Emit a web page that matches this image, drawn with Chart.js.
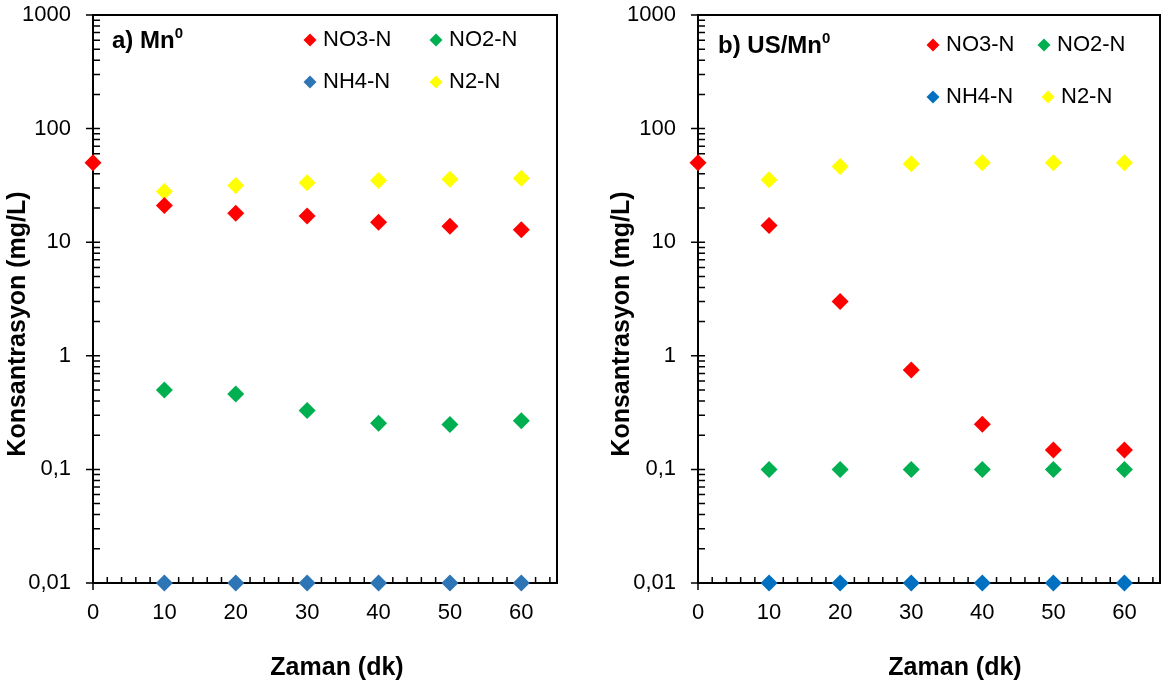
<!DOCTYPE html>
<html lang="tr">
<head>
    <meta charset="UTF-8">
    <title>Konsantrasyon - Zaman</title>
    <style>
        body {
            margin: 0;
            padding: 0;
            background: #ffffff;
            width: 1163px;
            height: 688px;
            position: relative;
            overflow: hidden;
        }
        canvas {
            position: absolute;
            top: 0;
        }
        #chartA { left: 0; }
        #chartB { left: 590px; }
    </style>
    <script src="https://cdn.jsdelivr.net/npm/chart.js"></script>
</head>
<body>
    <canvas id="chartA" width="580" height="688"></canvas>
    <canvas id="chartB" width="573" height="688"></canvas>

    <script>
        // Zaman (dk)
        const times = [0, 10, 20, 30, 40, 50, 60];

        // a) Mn0
        const mnNO3 = [50, 21, 18, 17, 15, 13.8, 12.9];
        const mnNO2 = [null, 0.5, 0.46, 0.33, 0.255, 0.248, 0.268];
        const mnNH4 = [null, 0.01, 0.01, 0.01, 0.01, 0.01, 0.01];
        const mnN2 = [null, 28, 31.5, 33.3, 34.9, 35.8, 36.6];

        // b) US/Mn0
        const usNO3 = [50, 14, 3, 0.75, 0.25, 0.148, 0.148];
        const usNO2 = [null, 0.1, 0.1, 0.1, 0.1, 0.1, 0.1];
        const usNH4 = [null, 0.01, 0.01, 0.01, 0.01, 0.01, 0.01];
        const usN2 = [null, 35.5, 46.5, 49, 50, 50, 50];

        const seriesNames = ['NO3-N', 'NO2-N', 'NH4-N', 'N2-N'];

        // eksen etiketleri
        const xTicks = [0, 10, 20, 30, 40, 50, 60];
        const yTicks = [0.01, 0.1, 1, 10, 100, 1000];
        const yTickLabels = ['0,01', '0,1', '1', '10', '100', '1000'];

        const FONT = '"Liberation Sans", Arial, sans-serif';

        function diamond(ctx, x, y, r) {
            ctx.beginPath();
            ctx.moveTo(x - r, y);
            ctx.lineTo(x, y - r);
            ctx.lineTo(x + r, y);
            ctx.lineTo(x, y + r);
            ctx.closePath();
            ctx.fill();
        }

        // çerçeve, iç tik çizgileri, lejant ve başlıklar
        const panelDecor = {
            id: 'panelDecor',
            beforeDatasetsDraw(chart) {
                const { ctx, chartArea: a, scales: { x, y } } = chart;
                ctx.save();
                ctx.strokeStyle = '#000';
                ctx.lineWidth = 2;
                ctx.strokeRect(a.left, a.top, a.right - a.left, a.bottom - a.top);

                ctx.lineWidth = 1.5;
                ctx.beginPath();
                yTicks.forEach((v, i) => {
                    const py = y.getPixelForValue(v);
                    ctx.moveTo(a.left - 7, py);
                    ctx.lineTo(a.left + 7, py);
                    if (i < yTicks.length - 1) {
                        for (let m = 2; m <= 9; m++) {
                            const my = y.getPixelForValue(v * m);
                            ctx.moveTo(a.left, my);
                            ctx.lineTo(a.left + 7, my);
                        }
                    }
                });
                for (let t = 0; t <= 64; t += 2) {
                    const px = x.getPixelForValue(t);
                    if (t % 10 === 0) {
                        ctx.moveTo(px, a.bottom + 7);
                        ctx.lineTo(px, a.bottom - 6);
                    } else {
                        ctx.moveTo(px, a.bottom);
                        ctx.lineTo(px, a.bottom - 6);
                    }
                }
                ctx.stroke();
                ctx.restore();
            },
            afterDraw(chart, args, opts) {
                const { ctx } = chart;
                ctx.save();
                ctx.fillStyle = '#000';
                ctx.textBaseline = 'middle';

                // panel başlığı (üst simge ile)
                ctx.font = 'bold 24px ' + FONT;
                ctx.textAlign = 'left';
                ctx.fillText(opts.title, opts.titlePos[0], opts.titlePos[1]);
                const w = ctx.measureText(opts.title).width;
                ctx.font = 'bold 15px ' + FONT;
                ctx.fillText('0', opts.titlePos[0] + w, opts.titlePos[1] - 7);

                // lejant
                ctx.font = '22px ' + FONT;
                chart.data.datasets.forEach((ds, i) => {
                    const [lx, ly] = opts.legend[i];
                    ctx.fillStyle = ds.backgroundColor;
                    diamond(ctx, lx, ly, 6.5);
                    ctx.fillStyle = '#000';
                    ctx.fillText(ds.label, lx + 13, ly);
                });

                // eksen başlıkları
                ctx.font = 'bold 25px ' + FONT;
                ctx.textAlign = 'center';
                ctx.fillText('Zaman (dk)', opts.xTitlePos[0], opts.xTitlePos[1]);
                ctx.translate(opts.yTitlePos[0], opts.yTitlePos[1]);
                ctx.rotate(-Math.PI / 2);
                ctx.fillText('Konsantrasyon (mg/L)', 0, 0);
                ctx.restore();
            }
        };

        function makeChart(id, values, colors, axisWidth, padRight, decor) {
            const datasets = values.map((vals, k) => ({
                label: seriesNames[k],
                data: times.map((t, i) => ({ x: t, y: vals[i] })).filter(p => p.y !== null),
                backgroundColor: colors[k],
                borderColor: colors[k],
                pointStyle: 'rectRot',
                pointRadius: 8.5,
                pointBorderWidth: 0,
                showLine: false,
                clip: false
            }));

            new Chart(document.getElementById(id), {
                type: 'scatter',
                data: { datasets: datasets },
                options: {
                    responsive: false,
                    animation: false,
                    devicePixelRatio: 1,
                    layout: {
                        autoPadding: false,
                        padding: { top: 15, right: padRight, bottom: 0, left: 0 }
                    },
                    plugins: {
                        legend: { display: false },
                        tooltip: { enabled: false },
                        panelDecor: decor
                    },
                    scales: {
                        x: {
                            type: 'linear',
                            min: 0,
                            max: 65,
                            afterBuildTicks: s => { s.ticks = xTicks.map(v => ({ value: v })); },
                            afterFit: s => {
                                s.height = 105;
                                s.paddingLeft = 0;
                                s.paddingRight = 0;
                            },
                            grid: { display: false, drawTicks: false },
                            border: { display: false },
                            ticks: {
                                padding: 17,
                                maxRotation: 0,
                                autoSkip: false,
                                color: '#000',
                                font: { family: FONT, size: 22 }
                            }
                        },
                        y: {
                            type: 'logarithmic',
                            min: 0.01,
                            max: 1000,
                            afterBuildTicks: s => { s.ticks = yTicks.map(v => ({ value: v })); },
                            afterFit: s => {
                                s.width = axisWidth;
                                s.paddingTop = 0;
                                s.paddingBottom = 0;
                            },
                            grid: { display: false, drawTicks: false },
                            border: { display: false },
                            ticks: {
                                padding: 22,
                                autoSkip: false,
                                color: '#000',
                                font: { family: FONT, size: 22 },
                                callback: (v, i) => yTickLabels[i]
                            }
                        }
                    }
                },
                plugins: [panelDecor]
            });
        }

        makeChart('chartA', [mnNO3, mnNO2, mnNH4, mnN2],
            ['#FF0000', '#00B050', '#2E75B6', '#FFFF00'], 93, 23, {
                title: 'a) Mn',
                titlePos: [112, 41],
                legend: [[310, 40], [436, 40], [310, 82], [436, 82]],
                xTitlePos: [337, 668],
                yTitlePos: [18, 324]
            });

        makeChart('chartB', [usNO3, usNO2, usNH4, usN2],
            ['#FF0000', '#00B050', '#0070C0', '#FFFF00'], 108, 3, {
                title: 'b) US/Mn',
                titlePos: [128, 46],
                legend: [[343, 45], [454, 45], [343, 97], [458, 97]],
                xTitlePos: [365, 668],
                yTitlePos: [32, 324]
            });
    </script>
</body>
</html>
